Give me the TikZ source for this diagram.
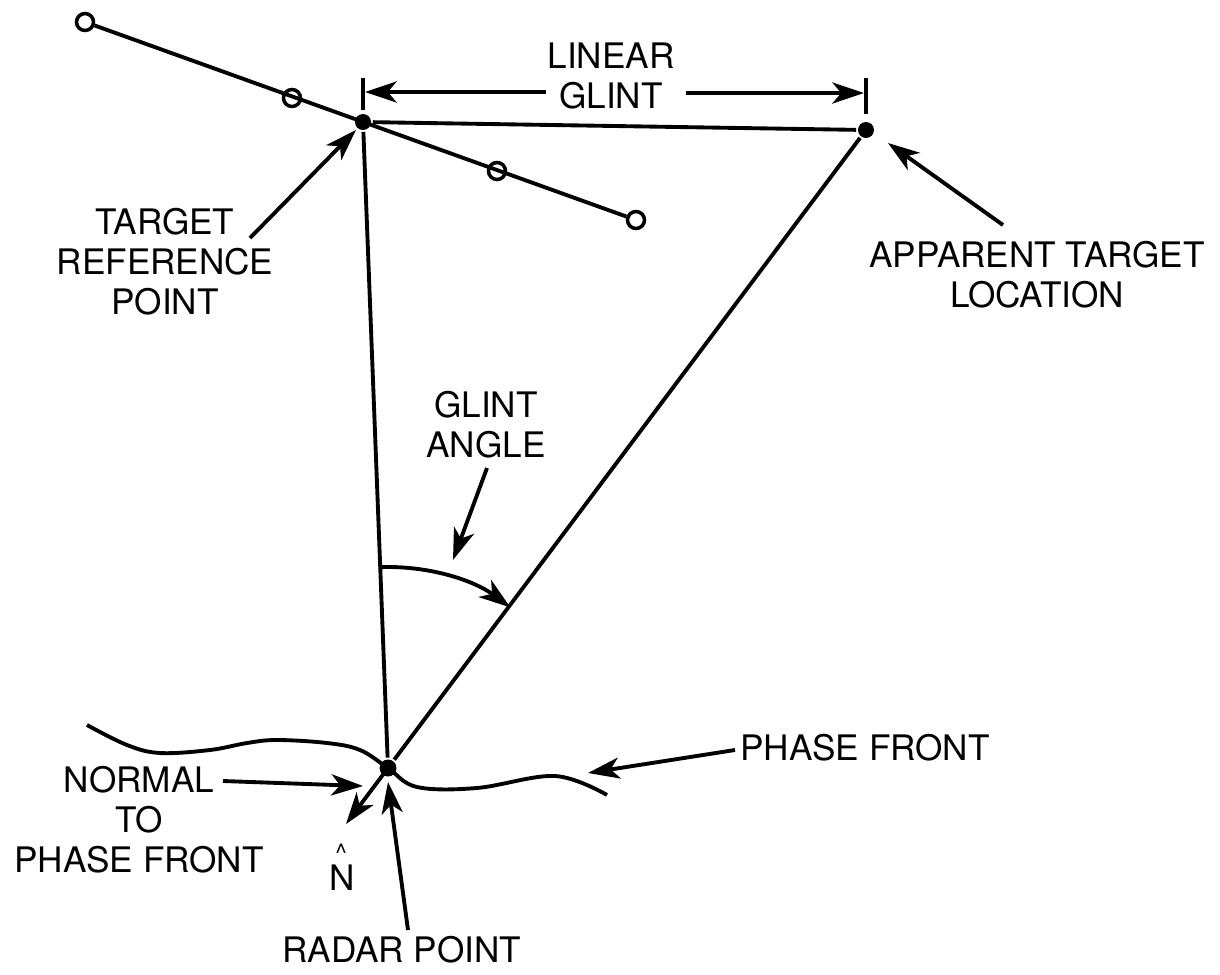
\documentclass[tikz,border=0pt]{standalone}
\usepackage{fontspec}
\setmainfont{TeX Gyre Heros}
\usetikzlibrary{arrows.meta}

\begin{document}
\begin{tikzpicture}[line width=1.1pt,
    dot/.style={circle,fill,inner sep=0pt,minimum size=0.16cm},
    ring/.style={circle,draw,line width=1pt,inner sep=0pt,minimum size=0.17cm},
    lbl/.style={align=center,inner sep=0pt,font=\fontsize{10}{11.4}\selectfont},
    arr/.style={-{Stealth[length=9pt,width=6pt,inset=2.5pt]}}]
    \useasboundingbox (0,0) rectangle (12.2,-9.75);
    \node [ring] (c1) at (0.85,-0.22) {};
    \node [ring] (c2) at (2.92,-0.98) {};
    \node [dot] (trp) at (3.63,-1.22) {};
    \node [ring] (c3) at (4.97,-1.71) {};
    \node [ring] (c4) at (6.36,-2.20) {};
    \node [dot] (app) at (8.66,-1.30) {};
    \node [dot,minimum size=0.17cm] (radar) at (3.88,-7.68) {};
    \draw (c1) -- (c4);
    \draw (trp) -- (app);
    \draw (trp) -- (radar);
    \draw (app) -- (radar);
    % dimension
    \coordinate (tla) at (3.63,-0.78);
    \coordinate (tlb) at (3.63,-1.10);
    \coordinate (tra) at (8.66,-0.78);
    \coordinate (trb) at (8.66,-1.14);
    \draw (tla) -- (tlb);
    \draw (tra) -- (trb);
    \node [lbl] (lglint) at (6.11,-0.76) {LINEAR\\GLINT};
    \coordinate (lgl) at (5.46,-0.92);
    \coordinate (lgr) at (6.86,-0.93);
    \draw [arr] (lgl) -- (3.65,-0.92);
    \draw [arr] (lgr) -- (8.64,-0.93);
    % labels
    \node [lbl] (trplabel) at (1.65,-2.62) {TARGET\\REFERENCE\\POINT};
    \coordinate (trptail) at (2.50,-2.38);
    \draw [arr] (trptail) -- (3.56,-1.30);
    \node [lbl] (applabel) at (10.37,-2.75) {APPARENT TARGET\\LOCATION};
    \coordinate (apptail) at (10.03,-2.25);
    \draw [arr] (apptail) -- (8.88,-1.43);
    \node [lbl] (glabel) at (4.86,-4.25) {GLINT\\ANGLE};
    \coordinate (gtail) at (4.87,-4.68);
    \draw [arr] (gtail) -- (4.53,-5.60);
    \draw [arr] (radar.center) ++(92.2:2.01) arc[start angle=92.2,end angle=53.4,radius=2.05];
    % phase front
    \draw plot [smooth,tension=0.6] coordinates {(0.87,-7.25) (1.27,-7.45) (1.60,-7.53) (2.10,-7.50) (2.47,-7.43) (2.77,-7.40) (3.27,-7.43) (3.60,-7.50) (3.88,-7.68) (4.17,-7.87) (4.77,-7.88) (5.55,-7.76) (6.07,-7.95)};
    \node [lbl] (pflabel) at (8.65,-7.48) {PHASE FRONT};
    \coordinate (pftail) at (7.35,-7.50);
    \draw [arr] (pftail) -- (5.88,-7.73);
    \node [lbl] (nlabel) at (1.39,-8.20) {NORMAL\\TO\\PHASE FRONT};
    \coordinate (ntail) at (2.23,-7.81);
    \draw [arr] (ntail) -- (3.63,-7.86);
    \node [lbl,anchor=base] (nhat) at (3.42,-8.90)
        {\makebox[0pt][l]{\hspace{1.7pt}\raisebox{8pt}{\fontsize{7}{7}\selectfont\textasciicircum}}N};
    \draw [arr] (radar.center) -- (3.46,-8.24);
    \node [lbl,anchor=base] (rlabel) at (4.02,-9.62) {RADAR POINT};
    \coordinate (rtail) at (4.08,-9.30);
    \draw [arr] (rtail) -- (3.88,-7.82);
\end{tikzpicture}
\end{document}
